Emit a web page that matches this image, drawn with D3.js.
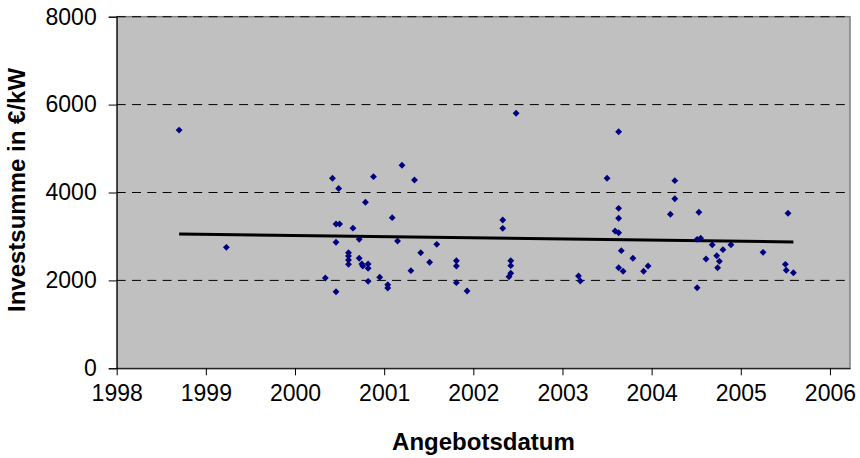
<!DOCTYPE html>
<html lang="de">
  <head>
    <meta charset="UTF-8" />
    <title>Investsumme</title>
    <style>
      body { margin: 0; background: #fff; }
      #chart { width: 860px; height: 458px; }
      text { font-family: "Liberation Sans", Arial, sans-serif; }
    </style>
  </head>
  <body>
    <div id="chart"></div>
    <script src="https://cdn.jsdelivr.net/npm/d3@7"></script>
    <script>
      // Angebotsdatum (as fractional years) and Investsumme in EUR/kW
      var dates = [
        1998.70, 1999.23, 2000.34, 2000.42, 2000.46, 2000.46, 2000.46, 2000.50,
        2000.49, 2000.60, 2000.60, 2000.60, 2000.60, 2000.65, 2000.72, 2000.72,
        2000.75, 2000.76, 2000.79, 2000.82, 2000.82, 2000.82, 2000.88, 2000.95,
        2001.04, 2001.04, 2001.09, 2001.15, 2001.20, 2001.30, 2001.34, 2001.41,
        2001.51, 2001.59, 2001.81, 2001.81, 2001.81, 2001.93, 2002.33, 2002.33,
        2002.42, 2002.42, 2002.42, 2002.40, 2002.48, 2003.18, 2003.20, 2003.50,
        2003.59, 2003.63, 2003.63, 2003.63, 2003.63, 2003.63, 2003.68, 2003.66,
        2003.79, 2003.91, 2003.96, 2004.21, 2004.26, 2004.26, 2004.51, 2004.51,
        2004.53, 2004.55, 2004.61, 2004.68, 2004.73, 2004.76, 2004.74, 2004.80,
        2004.89, 2005.25, 2005.50, 2005.51, 2005.53, 2005.59
      ];
      var values = [
        5420, 2753, 2055, 4323, 1743, 2867, 3283, 3283,
        4091, 2630, 2555, 2464, 2366, 3188, 2935, 2503,
        2373, 2328, 3777, 2373, 2275, 1979, 4360, 2071,
        1902, 1827, 3427, 2896, 4619, 2221, 4284, 2630,
        2412, 2821, 2448, 2328, 1948, 1759, 3374, 3185,
        2448, 2335, 2162, 2084, 5802, 2100, 1986, 4323,
        3124, 3085, 3640, 3413, 5383, 2289, 2207, 2676,
        2503, 2207, 2328, 3504, 4269, 3859, 1834, 2935,
        3550, 2958, 2487, 2812, 2562, 2435, 2289, 2699,
        2812, 2639, 2366, 2230, 3527, 2175
      ];
      // linear trend: value at first and last date
      var trendValues = [3056, 2874];
      var xTicks = [1998, 1999, 2000, 2001, 2002, 2003, 2004, 2005, 2006];
      var yTicks = [0, 2000, 4000, 6000, 8000];

      var points = dates.map(function (d, i) {
        return { date: d, value: values[i] };
      });

      var width = 860;
      var height = 458;
      var margin = { top: 16.7, right: 10, bottom: 89.7, left: 116.7 };
      var plotW = width - margin.left - margin.right;
      var plotH = height - margin.top - margin.bottom;

      var svg = d3
        .select("#chart")
        .append("svg")
        .attr("width", width)
        .attr("height", height);

      var g = svg
        .append("g")
        .attr("transform", "translate(" + margin.left + "," + margin.top + ")");

      var x = d3.scaleLinear().domain([1998, 2006.225]).range([0, plotW]);
      var y = d3.scaleLinear().domain([0, 8000]).range([plotH, 0]);

      // plot area
      g.append("rect")
        .attr("width", plotW)
        .attr("height", plotH)
        .attr("fill", "#c0c0c0")
        .attr("stroke", "#808080")
        .attr("stroke-width", 1.5);

      // dashed grid lines
      g.selectAll(".grid")
        .data(yTicks.filter(function (t) { return t > 0; }))
        .enter()
        .append("line")
        .attr("class", "grid")
        .attr("x1", 0)
        .attr("x2", plotW)
        .attr("y1", function (d) { return y(d); })
        .attr("y2", function (d) { return y(d); })
        .attr("stroke", "#000")
        .attr("stroke-width", 1)
        .attr("stroke-dasharray", "9,6.3");

      // y axis
      var yAxis = g
        .append("g")
        .call(d3.axisLeft(y).tickValues(yTicks).tickSize(8).tickPadding(12).tickFormat(d3.format("d")));
      yAxis.select(".domain").attr("stroke", "#000");
      yAxis.selectAll("text").attr("font-size", 23).attr("fill", "#000")
        .style("font-family", "'Liberation Sans', Arial, sans-serif");

      // x axis
      var xAxis = g
        .append("g")
        .attr("transform", "translate(0," + plotH + ")")
        .call(d3.axisBottom(x).tickValues(xTicks).tickSize(7).tickPadding(9).tickSizeOuter(0).tickFormat(d3.format("d")));
      xAxis.select(".domain").attr("stroke", "#000");
      xAxis.selectAll("text").attr("font-size", 23).attr("fill", "#000")
        .style("font-family", "'Liberation Sans', Arial, sans-serif");

      // trend line
      var ext = d3.extent(dates);
      g.append("line")
        .attr("x1", x(ext[0]))
        .attr("x2", x(ext[1]))
        .attr("y1", y(trendValues[0]))
        .attr("y2", y(trendValues[1]))
        .attr("stroke", "#000")
        .attr("stroke-width", 3);

      // points
      g.selectAll(".pt")
        .data(points)
        .enter()
        .append("path")
        .attr("class", "pt")
        .attr("d", d3.symbol(d3.symbolDiamond2, 30))
        .attr("transform", function (d) {
          return "translate(" + x(d.date) + "," + y(d.value) + ")";
        })
        .attr("fill", "#000080");

      // axis titles
      svg.append("text")
        .attr("x", 483.4)
        .attr("y", 450)
        .attr("text-anchor", "middle")
        .attr("font-size", 24)
        .attr("font-weight", "bold")
        .text("Angebotsdatum");

      svg.append("text")
        .attr("transform", "translate(25,190) rotate(-90)")
        .attr("text-anchor", "middle")
        .attr("font-size", 24)
        .attr("font-weight", "bold")
        .text("Investsumme in €/kW");
    </script>
  </body>
</html>
